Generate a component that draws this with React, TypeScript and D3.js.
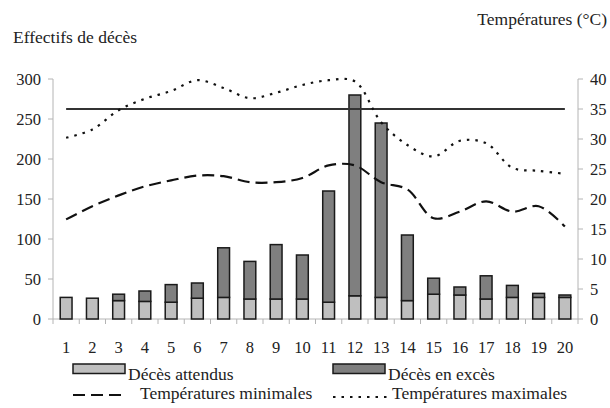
import React, { useEffect, useRef } from 'react';
import * as d3 from 'd3';

const days = ['1', '2', '3', '4', '5', '6', '7', '8', '9', '10', '11', '12', '13', '14', '15', '16', '17', '18', '19', '20'];
// deaths
const expected = [27, 26, 23, 22, 21, 26, 27, 25, 25, 25, 21, 29, 27, 23, 31, 30, 25, 27, 27, 27];
const total = [27, 26, 31, 35, 43, 45, 89, 72, 93, 80, 160, 280, 245, 105, 51, 40, 54, 42, 32, 30];
// temperatures (°C)
const tMin = [16.6, 18.8, 20.6, 22.1, 23.1, 23.9, 23.8, 22.8, 22.8, 23.5, 25.6, 25.6, 22.8, 21.6, 16.8, 17.9, 19.6, 17.9, 18.8, 15.4];
const tMax = [30.2, 31.6, 34.8, 36.7, 38, 39.8, 38.5, 36.8, 37.7, 39, 39.8, 39.6, 32.8, 29, 27.1, 29.7, 29.3, 25.2, 24.7, 24.2];
const threshold = 35;
const leftTicks = [0, 50, 100, 150, 200, 250, 300];
const rightTicks = [0, 5, 10, 15, 20, 25, 30, 35, 40];

const App = () => {
  const ref = useRef<SVGSVGElement>(null);

  useEffect(() => {
    const svg = d3.select(ref.current);
    svg.selectAll('*').remove();

    const left = 53, right = 578, top = 79, bottom = 319;
    const font = '"Liberation Serif", "Times New Roman", serif';
    const axisColor = '#b4b4b4';
    const textColor = '#222';
    const dash = '12,6';
    const dots = '2.5,6';

    const x = d3.scaleBand().domain(days).range([left, right]).padding(0);
    const yL = d3.scaleLinear().domain([0, 300]).range([bottom, top]);
    const yR = d3.scaleLinear().domain([0, 40]).range([bottom, top]);
    const bw = x.bandwidth() * 0.45;
    const cx = (d: string) => (x(d) as number) + x.bandwidth() / 2;

    const g = svg.append('g').style('font-family', font).style('font-size', '17.5px').attr('fill', textColor);

    // axes lines
    g.append('line').attr('x1', left).attr('x2', left).attr('y1', top).attr('y2', bottom).attr('stroke', axisColor);
    g.append('line').attr('x1', right).attr('x2', right).attr('y1', top).attr('y2', bottom).attr('stroke', axisColor);
    g.append('line').attr('x1', left).attr('x2', right).attr('y1', bottom).attr('y2', bottom).attr('stroke', axisColor);

    const ticks = g.append('g').style('font-size', '16.5px');
    leftTicks.forEach(t => {
      ticks.append('line').attr('x1', left - 5).attr('x2', left).attr('y1', yL(t)).attr('y2', yL(t)).attr('stroke', axisColor);
      ticks.append('text').attr('x', left - 12).attr('y', yL(t)).attr('dy', '0.35em').attr('text-anchor', 'end').text(t);
    });
    rightTicks.forEach(t => {
      ticks.append('line').attr('x1', right).attr('x2', right + 5).attr('y1', yR(t)).attr('y2', yR(t)).attr('stroke', axisColor);
      ticks.append('text').attr('x', right + 12).attr('y', yR(t)).attr('dy', '0.35em').text(t);
    });
    const bounds = days.map(d => x(d) as number).concat([right]);
    bounds.forEach(b => {
      ticks.append('line').attr('x1', b).attr('x2', b).attr('y1', bottom).attr('y2', bottom + 5).attr('stroke', axisColor);
    });
    days.forEach(d => {
      ticks.append('text').attr('x', cx(d)).attr('y', 353).attr('text-anchor', 'middle').text(d);
    });

    // bars
    days.forEach((d, i) => {
      const x0 = cx(d) - bw / 2;
      g.append('rect').attr('x', x0).attr('width', bw)
        .attr('y', yL(expected[i])).attr('height', yL(0) - yL(expected[i]))
        .attr('fill', '#bfbfbf').attr('stroke', '#1a1a1a').attr('stroke-width', 1.5);
      if (total[i] > expected[i]) {
        g.append('rect').attr('x', x0).attr('width', bw)
          .attr('y', yL(total[i])).attr('height', yL(expected[i]) - yL(total[i]))
          .attr('fill', '#7f7f7f').attr('stroke', '#1a1a1a').attr('stroke-width', 1.5);
      }
    });

    // threshold line
    g.append('line').attr('x1', cx(days[0])).attr('x2', cx(days[days.length - 1]))
      .attr('y1', yR(threshold)).attr('y2', yR(threshold)).attr('stroke', '#333').attr('stroke-width', 1.8);

    const line = d3.line<number>()
      .x((_, i) => cx(days[i]))
      .y(v => yR(v))
      .curve(d3.curveCatmullRom.alpha(0.5));

    g.append('path').attr('d', line(tMin)).attr('fill', 'none').attr('stroke', '#111')
      .attr('stroke-width', 2.2).attr('stroke-dasharray', dash);
    g.append('path').attr('d', line(tMax)).attr('fill', 'none').attr('stroke', '#111')
      .attr('stroke-width', 2.2).attr('stroke-dasharray', dots);

    // titles
    g.append('text').attr('x', 13).attr('y', 43).text('Effectifs de décès');
    g.append('text').attr('x', 607).attr('y', 25).attr('text-anchor', 'end').text('Températures (°C)');

    // legend
    g.append('rect').attr('x', 73).attr('y', 364).attr('width', 52).attr('height', 9.5)
      .attr('fill', '#bfbfbf').attr('stroke', '#1a1a1a').attr('stroke-width', 1.5);
    g.append('text').attr('x', 128).attr('y', 380).text('Décès attendus');
    g.append('rect').attr('x', 333).attr('y', 364).attr('width', 52).attr('height', 9.5)
      .attr('fill', '#7f7f7f').attr('stroke', '#1a1a1a').attr('stroke-width', 1.5);
    g.append('text').attr('x', 388).attr('y', 380).text('Décès en excès');

    g.append('line').attr('x1', 73).attr('x2', 124).attr('y1', 395).attr('y2', 395)
      .attr('stroke', '#111').attr('stroke-width', 2.2).attr('stroke-dasharray', dash);
    g.append('text').attr('x', 140).attr('y', 399).text('Températures minimales');
    g.append('line').attr('x1', 333).attr('x2', 388).attr('y1', 397).attr('y2', 397)
      .attr('stroke', '#111').attr('stroke-width', 2.2).attr('stroke-dasharray', dots);
    g.append('text').attr('x', 392).attr('y', 399).text('Températures maximales');
  }, []);

  return (
    <svg ref={ref} width={610} height={408} style={{ position: 'absolute', top: 0, left: 0, background: '#fff' }} />
  );
};

export default App;
